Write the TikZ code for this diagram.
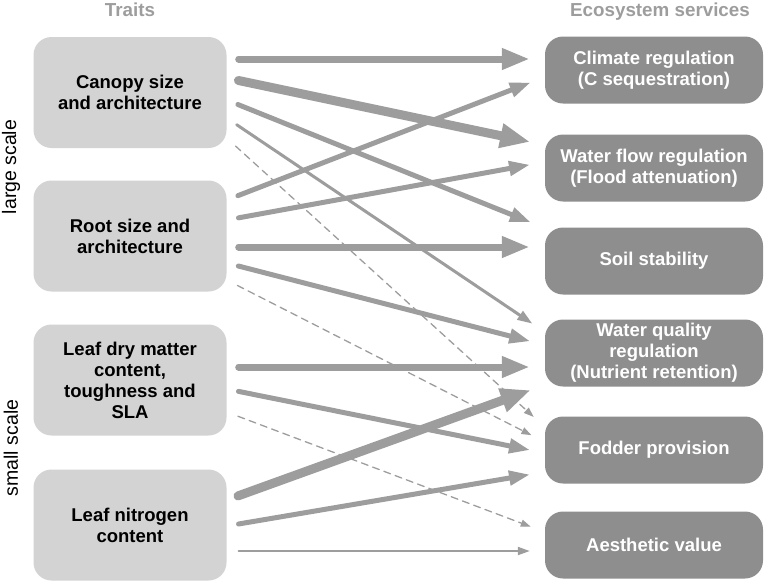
\documentclass[tikz,border=0pt]{standalone}
\usepackage{fontspec}
\setmainfont{Liberation Sans}
\usetikzlibrary{arrows.meta}
\definecolor{boxlight}{HTML}{D3D3D3}
\definecolor{boxdark}{HTML}{8E8E8E}
\definecolor{flowgray}{HTML}{9D9D9D}
\begin{document}
\begin{tikzpicture}[x=1pt,y=-1pt,line cap=round,
	trait/.style={fill=boxlight,rounded corners=18pt,minimum width=193pt,minimum height=111pt,align=center,inner sep=0pt,font=\fontsize{18.5}{21}\selectfont\bfseries},
	service/.style={fill=boxdark,text=white,rounded corners=18pt,minimum width=218pt,minimum height=67pt,align=center,inner sep=0pt,font=\fontsize{18.5}{21}\selectfont\bfseries},
	heading/.style={text=flowgray,anchor=base,font=\fontsize{18.8}{21}\selectfont\bfseries},
	scalelabel/.style={rotate=90,font=\fontsize{19.5}{21}\selectfont},
	flow/.style={draw=flowgray,shorten <=12pt,shorten >=15pt},
	w2/.style={flow,line width=2pt,-{Triangle[length=12pt,width=8pt]}},
	w3/.style={flow,line width=3pt,-{Triangle[length=15pt,width=10pt]}},
	w5/.style={flow,line width=5pt,-{Triangle[length=21pt,width=14pt]}},
	w7/.style={flow,line width=7pt,-{Triangle[length=28pt,width=20pt]}},
	w9/.style={flow,line width=9pt,-{Triangle[length=30pt,width=23pt]}},
	dashedflow/.style={flow,line width=1.3pt,dash pattern=on 7pt off 5pt,-{Triangle[length=10pt,width=7pt]}}]
	\useasboundingbox (0,0) rectangle (767,582);
	% titles
	\node[heading] (traits) at (130,16) {Traits};
	\node[heading] (services) at (660,16) {Ecosystem services};
	\node[scalelabel] (large) at (11,167) {large scale};
	\node[scalelabel] (small) at (11,448) {small scale};
	% traits
	\node[trait] (canopy) at (130,92.5) {Canopy size\\and architecture};
	\node[trait] (root) at (130,236) {Root size and\\architecture};
	\node[trait] (ldmc) at (130,380) {Leaf dry matter\\content,\\toughness and\\SLA};
	\node[trait] (leafn) at (130,525) {Leaf nitrogen\\content};
	% services
	\node[service] (climate) at (654,70) {Climate regulation\\(C sequestration)};
	\node[service] (waterflow) at (654,168) {Water flow regulation\\(Flood attenuation)};
	\node[service] (soil) at (654,261) {Soil stability};
	\node[service] (quality) at (654,353) {Water quality\\regulation\\(Nutrient retention)};
	\node[service] (fodder) at (654,450) {Fodder provision};
	\node[service] (aesthetic) at (654,545) {Aesthetic value};
	% links
	\foreach \src/\sy/\dst/\dy/\st in {
		canopy/59/climate/59/w7, canopy/78/waterflow/145/w9,
		canopy/100/soil/228/w5, canopy/118/quality/332/w3,
		canopy/138/fodder/427/dashedflow,
		root/200/climate/77/w5, root/220/waterflow/162/w5,
		root/247/soil/247/w7, root/263/quality/345/w5,
		root/280/fodder/442/dashedflow,
		ldmc/367/quality/367/w7, ldmc/389/fodder/453/w5,
		ldmc/412/aesthetic/532/dashedflow,
		leafn/500/quality/385/w9, leafn/526/fodder/472/w5,
		leafn/551/aesthetic/551/w2}
		\draw[style=\st] (\src.east |- 0,\sy) -- (\dst.west |- 0,\dy);
\end{tikzpicture}
\end{document}
